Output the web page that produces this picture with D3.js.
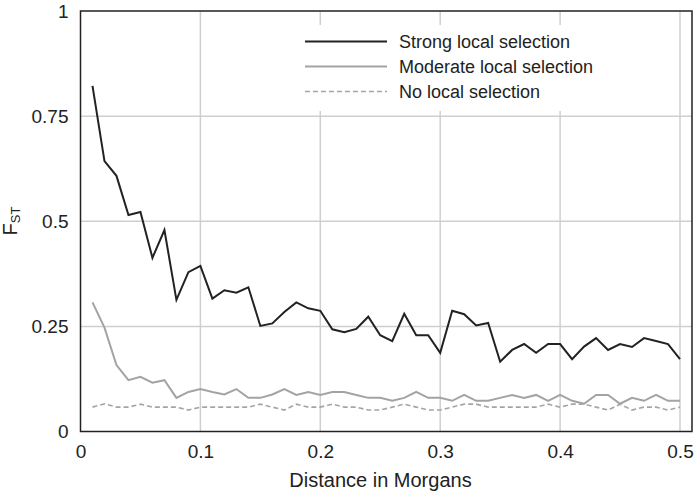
<!DOCTYPE html>
<html><head><meta charset="utf-8">
<script src="https://cdn.jsdelivr.net/npm/d3@7"></script>
<style>
html,body{margin:0;padding:0;background:#fff;}
svg{display:block;font-family:"Liberation Sans",Arial,Helvetica,sans-serif;}
</style></head>
<body>
<svg id="chart" width="695" height="498"></svg>
<script>
const distances = d3.range(1, 51).map(i => i / 100);
const strongValues = [
  0.822, 0.643, 0.608, 0.515, 0.522, 0.413, 0.479, 0.313, 0.379, 0.394,
  0.316, 0.336, 0.330, 0.343, 0.251, 0.257, 0.284, 0.307, 0.293, 0.287,
  0.243, 0.236, 0.244, 0.273, 0.229, 0.215, 0.280, 0.229, 0.229, 0.187,
  0.287, 0.279, 0.252, 0.258, 0.166, 0.194, 0.208, 0.187, 0.208, 0.208,
  0.172, 0.202, 0.222, 0.194, 0.208, 0.201, 0.222, 0.215, 0.208, 0.172
];
const moderateValues = [
  0.307, 0.247, 0.158, 0.122, 0.130, 0.116, 0.122, 0.080, 0.094, 0.101,
  0.094, 0.088, 0.101, 0.080, 0.080, 0.088, 0.101, 0.087, 0.094, 0.087,
  0.094, 0.094, 0.087, 0.080, 0.080, 0.073, 0.080, 0.094, 0.080, 0.080,
  0.073, 0.087, 0.073, 0.073, 0.080, 0.087, 0.080, 0.087, 0.073, 0.087,
  0.073, 0.066, 0.087, 0.087, 0.066, 0.080, 0.073, 0.087, 0.073, 0.073
];
const noneValues = [
  0.058, 0.066, 0.058, 0.058, 0.065, 0.058, 0.058, 0.058, 0.051, 0.058,
  0.058, 0.058, 0.058, 0.058, 0.065, 0.058, 0.051, 0.065, 0.058, 0.058,
  0.065, 0.058, 0.058, 0.051, 0.051, 0.058, 0.065, 0.058, 0.051, 0.051,
  0.058, 0.065, 0.065, 0.058, 0.058, 0.058, 0.058, 0.058, 0.065, 0.058,
  0.065, 0.065, 0.058, 0.051, 0.065, 0.051, 0.058, 0.058, 0.051, 0.058
];
const seriesNames = ["Strong local selection", "Moderate local selection", "No local selection"];
const xTicks = [0, 0.1, 0.2, 0.3, 0.4, 0.5];
const xTickLabels = ["0", "0.1", "0.2", "0.3", "0.4", "0.5"];
const yTicks = [0, 0.25, 0.5, 0.75, 1];
const yTickLabels = ["0", "0.25", "0.5", "0.75", "1"];

const series = [
  {name: seriesNames[0], values: strongValues, color: "#222", width: 2, dash: null},
  {name: seriesNames[1], values: moderateValues, color: "#a3a3a3", width: 2, dash: null},
  {name: seriesNames[2], values: noneValues, color: "#a5a5a5", width: 1.6, dash: "5,3"}
];

const svg = d3.select("#chart");
const L = 80.5, R = 692, T = 11, B = 431.5;
const x = d3.scaleLinear().domain([0, 0.51]).range([L, L + (680 - L) / 0.5 * 0.51]);
const y = d3.scaleLinear().domain([0, 1]).range([B, T]);

// gridlines
const grid = svg.append("g");
grid.selectAll("line.v").data(xTicks.slice(1)).join("line")
  .attr("x1", d => x(d)).attr("x2", d => x(d)).attr("y1", T).attr("y2", B)
  .attr("stroke", "#cfcfcf").attr("stroke-width", 1.5);
grid.selectAll("line.h").data(yTicks.slice(1, -1)).join("line")
  .attr("x1", L).attr("x2", R).attr("y1", d => y(d)).attr("y2", d => y(d))
  .attr("stroke", "#cfcfcf").attr("stroke-width", 1.5);

// legend background
svg.append("rect").attr("x", 292).attr("y", 25).attr("width", 378).attr("height", 86).attr("fill", "#fff");

// lines
const line = d3.line().x((d, i) => x(distances[i])).y(d => y(d));
series.forEach(s => {
  svg.append("path").datum(s.values).attr("d", line)
    .attr("fill", "none").attr("stroke", s.color).attr("stroke-width", s.width)
    .attr("stroke-linejoin", "miter")
    .attr("stroke-dasharray", s.dash);
});

// frame
svg.append("rect").attr("x", L).attr("y", T).attr("width", R - L).attr("height", B - T)
  .attr("fill", "none").attr("stroke", "#222").attr("stroke-width", 1.5);

// axes labels via d3 axes (no domain/ticks lines)
const xAxis = d3.axisBottom(x).tickValues(xTicks).tickFormat((d, i) => xTickLabels[i]).tickSize(0).tickPadding(13);
const gx = svg.append("g").attr("transform", `translate(0,${B})`).call(xAxis);
gx.select(".domain").remove();
gx.selectAll("text").attr("font-size", 19).attr("fill", "#222").attr("font-family", null);

const yAxis = d3.axisLeft(y).tickValues(yTicks).tickFormat((d, i) => yTickLabels[i]).tickSize(0).tickPadding(12);
const gy = svg.append("g").attr("transform", `translate(${L},0)`).call(yAxis);
gy.select(".domain").remove();
gy.selectAll("text").attr("font-size", 19).attr("fill", "#222").attr("font-family", null);

// axis titles
svg.append("text").attr("x", 380.5).attr("y", 487).attr("text-anchor", "middle")
  .attr("font-size", 20).attr("fill", "#222").text("Distance in Morgans");
const yt = svg.append("text").attr("transform", "translate(17,221) rotate(-90)")
  .attr("text-anchor", "middle").attr("font-size", 20).attr("fill", "#222");
yt.append("tspan").text("F");
yt.append("tspan").attr("font-size", 13).attr("dy", 3).text("ST");

// legend
const lg = svg.append("g");
series.forEach((s, i) => {
  const yy = 41.5 + i * 25;
  lg.append("line").attr("x1", 305).attr("x2", 387).attr("y1", yy).attr("y2", yy)
    .attr("stroke", s.color).attr("stroke-width", s.width === 2 ? 1.8 : 1.3).attr("stroke-dasharray", s.dash);
  lg.append("text").attr("x", 399).attr("y", yy + 6.5).attr("font-size", 18).attr("fill", "#222").text(s.name);
});
</script>
</body></html>
